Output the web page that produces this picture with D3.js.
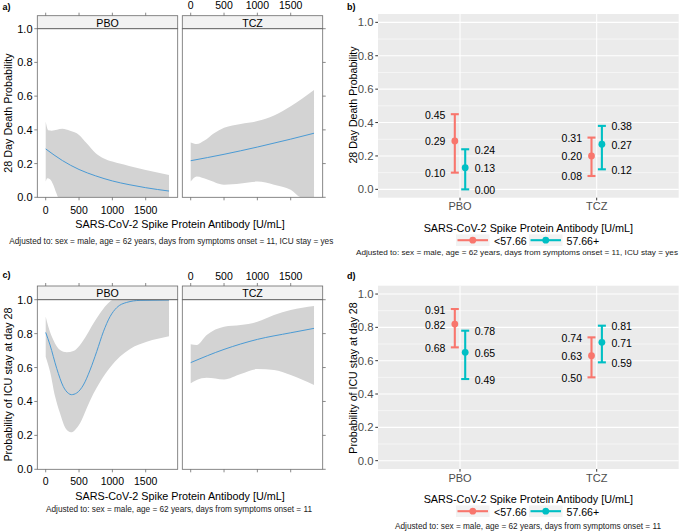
<!DOCTYPE html>
<html><head><meta charset="utf-8">
<script src="https://cdn.jsdelivr.net/npm/d3@7"></script>
<style>body{margin:0;background:#fff} svg{display:block;font-family:"Liberation Sans",Arial,sans-serif}</style>
</head><body><svg id="c" width="685" height="531"></svg>
<script>
// ---------------- data ----------------
const categories = ["PBO", "TCZ"];
const groups = ["<57.66", "57.66+"];
const groupColors = ["#F8766D", "#00BFC4"];
const xTicks = [0, 500, 1000, 1500];
const yTicks = [0, 0.2, 0.4, 0.6, 0.8, 1.0];
const yTickLabels = ["0.0", "0.2", "0.4", "0.6", "0.8", "1.0"];
const xTitle = "SARS-CoV-2 Spike Protein Antibody [U/mL]";
const noteDeath = "Adjusted to: sex = male, age = 62 years, days from symptoms onset = 11, ICU stay = yes";
const noteIcu = "Adjusted to: sex = male, age = 62 years, days from symptoms onset = 11";

// panel a: 28 day death probability, continuous antibody
const aPboFitX = [0, 250, 500, 750, 1000, 1250, 1500, 1850];
const aPboFit  = [0.287, 0.218, 0.165, 0.127, 0.097, 0.075, 0.057, 0.037];
const aPboUpX  = [0, 40, 90, 250, 365, 500, 615, 750, 865, 1000, 1250, 1500, 1850];
const aPboUp   = [0.45, 0.397, 0.395, 0.406, 0.394, 0.37, 0.32, 0.262, 0.232, 0.212, 0.186, 0.162, 0.133];
const aPboLoX  = [0, 25, 65, 115, 155, 190, 1850];
const aPboLo   = [0.093, 0.113, 0.107, 0.073, 0.03, 0.0, 0.0];
const aTczFitX = [0, 500, 1000, 1500, 1850];
const aTczFit  = [0.217, 0.255, 0.298, 0.345, 0.38];
const aTczUpX  = [0, 90, 200, 350, 500, 750, 1000, 1250, 1500, 1850];
const aTczUp   = [0.325, 0.316, 0.335, 0.38, 0.412, 0.435, 0.452, 0.485, 0.54, 0.637];
const aTczLoX  = [0, 90, 250, 500, 750, 1000, 1250, 1500, 1665, 1850];
const aTczLo   = [0.093, 0.123, 0.105, 0.075, 0.082, 0.093, 0.075, 0.045, 0.0, 0.0];

// panel c: probability of ICU stay at day 28, continuous antibody
const cPboFitX = [0, 65, 165, 265, 340, 385, 465, 565, 665, 765, 865, 965, 1065, 1215, 1415, 1850];
const cPboFit  = [0.807, 0.733, 0.595, 0.487, 0.448, 0.440, 0.450, 0.497, 0.585, 0.694, 0.811, 0.9, 0.953, 0.984, 0.996, 0.998];
const cPboUpX  = [0, 40, 115, 215, 315, 415, 515, 615, 715, 815, 915, 1015, 1850];
const cPboUp   = [0.9, 0.84, 0.762, 0.703, 0.69, 0.697, 0.733, 0.792, 0.86, 0.92, 0.97, 1.0, 1.0];
const cPboLoX  = [0, 65, 140, 215, 300, 380, 440, 515, 615, 715, 815, 965, 1115, 1265, 1515, 1850];
const cPboLo   = [0.664, 0.576, 0.43, 0.33, 0.24, 0.218, 0.232, 0.271, 0.36, 0.445, 0.515, 0.6, 0.665, 0.71, 0.752, 0.785];
const cTczFitX = [0, 500, 1000, 1500, 1850];
const cTczFit  = [0.629, 0.707, 0.766, 0.805, 0.831];
const cTczUpX  = [0, 90, 240, 500, 750, 1000, 1250, 1500, 1850];
const cTczUp   = [0.737, 0.733, 0.792, 0.841, 0.851, 0.87, 0.91, 0.939, 0.963];
const cTczLoX  = [0, 90, 240, 500, 750, 1000, 1250, 1500, 1850];
const cTczLo   = [0.507, 0.527, 0.54, 0.53, 0.562, 0.591, 0.585, 0.556, 0.497];

// panel b: 28 day death probability by antibody group
const bEstLow  = [0.29, 0.20];
const bLoLow   = [0.10, 0.08];
const bHiLow   = [0.45, 0.31];
const bEstHigh = [0.13, 0.27];
const bLoHigh  = [0.00, 0.12];
const bHiHigh  = [0.24, 0.38];

// panel d: ICU stay at day 28 by antibody group
const dEstLow  = [0.82, 0.63];
const dLoLow   = [0.68, 0.50];
const dHiLow   = [0.91, 0.74];
const dEstHigh = [0.65, 0.71];
const dLoHigh  = [0.49, 0.59];
const dHiHigh  = [0.78, 0.81];

// ---------------- drawing ----------------
const svg = d3.select("#c");
const zip = (xs, ys) => xs.map((x, i) => [x, ys[i]]);
let clipId = 0;

function note(g, o) {
  g.append("text").attr("x", o.noteX).attr("y", o.noteY).attr("dominant-baseline", "central")
    .attr("font-size", o.noteSize || 8.6).attr("textLength", o.noteW).attr("lengthAdjust", "spacingAndGlyphs")
    .attr("fill", "#222").text(o.note);
}

function latticePlot(o) {
  const g = svg.append("g");
  const border = "#6b6b6b";
  const y = d3.scaleLinear().domain([0, 1]).range([o.y0, o.y1]);
  const panels = [
    {name: categories[0], x0: 37.3, x1: 177.7, fit: o.pbo[0], up: o.pbo[1], lo: o.pbo[2]},
    {name: categories[1], x0: 182.3, x1: 322.7, fit: o.tcz[0], up: o.tcz[1], lo: o.tcz[2]}
  ];
  panels.forEach((p, pi) => {
    const x = d3.scaleLinear().domain([-126, 1980]).range([p.x0, p.x1]);
    const id = "clip" + (clipId++);
    g.append("clipPath").attr("id", id).append("rect")
      .attr("x", p.x0).attr("y", o.y1).attr("width", p.x1 - p.x0).attr("height", o.y0 - o.y1);
    const pg = g.append("g").attr("clip-path", `url(#${id})`);
    const line = d3.line().x(d => x(d[0])).y(d => y(d[1])).curve(d3.curveMonotoneX);
    const upPath = line(p.up);
    const loPath = line(p.lo.slice().reverse());
    pg.append("path").attr("d", upPath + "L" + loPath.slice(1) + "Z")
      .attr("fill", "#d3d3d3").attr("stroke", "none");
    pg.append("path").attr("d", line(p.fit)).attr("fill", "none")
      .attr("stroke", "#4a9ad4").attr("stroke-width", 1);
    // strip
    g.append("rect").attr("x", p.x0).attr("y", o.stripTop).attr("width", p.x1 - p.x0)
      .attr("height", o.y1 - o.stripTop).attr("fill", "#f2f2f2").attr("stroke", border).attr("stroke-width", 0.8);
    g.append("text").attr("x", (p.x0 + p.x1) / 2).attr("y", (o.stripTop + o.y1) / 2 + 0.5)
      .attr("text-anchor", "middle").attr("dominant-baseline", "central")
      .attr("font-size", 10.6).attr("font-weight", "normal").text(p.name);
    // panel border
    g.append("rect").attr("x", p.x0).attr("y", o.y1).attr("width", p.x1 - p.x0)
      .attr("height", o.y0 - o.y1).attr("fill", "none").attr("stroke", border).attr("stroke-width", 0.8);
    // x ticks bottom and top
    xTicks.forEach(t => {
      g.append("line").attr("x1", x(t)).attr("x2", x(t)).attr("y1", o.y0).attr("y2", o.y0 + 3)
        .attr("stroke", border).attr("stroke-width", 0.8);
      g.append("line").attr("x1", x(t)).attr("x2", x(t)).attr("y1", o.stripTop).attr("y2", o.stripTop - 3)
        .attr("stroke", border).attr("stroke-width", 0.8);
      g.append("text").attr("x", x(t)).attr("y", pi === 0 ? o.botLab : o.topLab).attr("text-anchor", "middle")
        .attr("dominant-baseline", "central").attr("font-size", 10.5).text(t);
    });
    // y ticks
    yTicks.forEach((t, i) => {
      if (pi === 0) {
        g.append("line").attr("x1", p.x0).attr("x2", p.x0 - 3).attr("y1", y(t)).attr("y2", y(t))
          .attr("stroke", border).attr("stroke-width", 0.8);
        g.append("text").attr("x", 32.5).attr("y", y(t)).attr("text-anchor", "end")
          .attr("dominant-baseline", "central").attr("font-size", 11).text(yTickLabels[i]);
      } else {
        g.append("line").attr("x1", p.x1).attr("x2", p.x1 + 3).attr("y1", y(t)).attr("y2", y(t))
          .attr("stroke", border).attr("stroke-width", 0.8);
      }
    });
  });
  g.append("text").attr("transform", `translate(7.5,${(o.y0 + o.y1) / 2}) rotate(-90)`)
    .attr("text-anchor", "middle").attr("dominant-baseline", "central")
    .attr("font-size", 10.8).text(o.yTitle);
  g.append("text").attr("x", 180).attr("y", o.xTitleY).attr("text-anchor", "middle")
    .attr("dominant-baseline", "central").attr("font-size", 10.8).text(xTitle);
  note(g, o);
  g.append("text").attr("x", 2.5).attr("y", o.labY).attr("dominant-baseline", "central")
    .attr("font-size", 9).attr("font-weight", "bold").text(o.label);
}

function ggPlot(o) {
  const g = svg.append("g");
  const X0 = 378, X1 = 678.7;
  const y = d3.scaleLinear().domain([-0.05, 1.05]).range([o.bottom, o.top]);
  const x = d3.scalePoint().domain(categories).range([X0, X1]).padding(0.6);
  const step = x.step();
  g.append("rect").attr("x", X0).attr("y", o.top).attr("width", X1 - X0).attr("height", o.bottom - o.top)
    .attr("fill", "#ebebeb");
  [0.1, 0.3, 0.5, 0.7, 0.9].forEach(t => g.append("line").attr("x1", X0).attr("x2", X1)
    .attr("y1", y(t)).attr("y2", y(t)).attr("stroke", "#fff").attr("stroke-width", 0.55));
  yTicks.forEach(t => g.append("line").attr("x1", X0).attr("x2", X1)
    .attr("y1", y(t)).attr("y2", y(t)).attr("stroke", "#fff").attr("stroke-width", 1.07));
  categories.forEach(c => g.append("line").attr("x1", x(c)).attr("x2", x(c))
    .attr("y1", o.top).attr("y2", o.bottom).attr("stroke", "#fff").attr("stroke-width", 1.07));
  const series = [
    {est: o.low[0], lo: o.low[1], hi: o.low[2], off: -0.038, side: -1},
    {est: o.high[0], lo: o.high[1], hi: o.high[2], off: 0.038, side: 1}
  ];
  series.forEach((s, si) => {
    const col = groupColors[si];
    categories.forEach((c, ci) => {
      const cx = x(c) + s.off * step;
      g.append("line").attr("x1", cx).attr("x2", cx).attr("y1", y(s.lo[ci])).attr("y2", y(s.hi[ci]))
        .attr("stroke", col).attr("stroke-width", 2.1);
      [s.lo[ci], s.hi[ci]].forEach(v => g.append("line").attr("x1", cx - 4).attr("x2", cx + 4)
        .attr("y1", y(v)).attr("y2", y(v)).attr("stroke", col).attr("stroke-width", 2.1));
      g.append("circle").attr("cx", cx).attr("cy", y(s.est[ci])).attr("r", 3.4).attr("fill", col);
      [s.hi[ci], s.est[ci], s.lo[ci]].forEach(v => g.append("text")
        .attr("x", cx + s.side * 9.5).attr("y", y(v) + 0.5)
        .attr("text-anchor", s.side < 0 ? "end" : "start").attr("dominant-baseline", "central")
        .attr("font-size", 10.5).attr("fill", "#000").text(v.toFixed(2)));
    });
  });
  // y axis
  yTicks.forEach((t, i) => {
    g.append("line").attr("x1", X0).attr("x2", X0 - 2.7).attr("y1", y(t)).attr("y2", y(t))
      .attr("stroke", "#333").attr("stroke-width", 1);
    g.append("text").attr("x", X0 - 4.5).attr("y", y(t)).attr("text-anchor", "end")
      .attr("dominant-baseline", "central").attr("font-size", 11.3).attr("fill", "#4d4d4d").text(yTickLabels[i]);
  });
  categories.forEach(c => {
    g.append("line").attr("x1", x(c)).attr("x2", x(c)).attr("y1", o.bottom).attr("y2", o.bottom + 2.7)
      .attr("stroke", "#333").attr("stroke-width", 1);
    g.append("text").attr("x", x(c)).attr("y", o.xLabY).attr("text-anchor", "middle")
      .attr("dominant-baseline", "central").attr("font-size", 11).attr("fill", "#4d4d4d").text(c);
  });
  g.append("text").attr("transform", `translate(353,${o.yTitleY}) rotate(-90)`)
    .attr("text-anchor", "middle").attr("dominant-baseline", "central")
    .attr("font-size", 10.6).text(o.yTitle);
  g.append("text").attr("x", (X0 + X1) / 2).attr("y", o.titleY).attr("text-anchor", "middle")
    .attr("dominant-baseline", "central").attr("font-size", 10.8).text(xTitle);
  // legend
  const keys = [{x: 456, tx: 494}, {x: 529, tx: 566.5}];
  groups.forEach((gr, i) => {
    const k = keys[i];
    g.append("rect").attr("x", k.x).attr("y", o.legY - 5.8).attr("width", 33.5).attr("height", 11.6)
      .attr("fill", "#f2f2f2");
    g.append("line").attr("x1", k.x + 1.5).attr("x2", k.x + 32).attr("y1", o.legY).attr("y2", o.legY)
      .attr("stroke", groupColors[i]).attr("stroke-width", 2.1);
    g.append("circle").attr("cx", k.x + 16.75).attr("cy", o.legY).attr("r", 3.4).attr("fill", groupColors[i]);
    g.append("text").attr("x", k.tx).attr("y", o.legY + 0.5).attr("dominant-baseline", "central")
      .attr("font-size", 10.6).text(gr);
  });
  note(g, o);
  g.append("text").attr("x", 347).attr("y", o.labY).attr("dominant-baseline", "central")
    .attr("font-size", 9).attr("font-weight", "bold").text(o.label);
}

latticePlot({
  label: "a)", labY: 7, stripTop: 15.7, y1: 28.7, y0: 197.3, topLab: 5, botLab: 209.5,
  xTitleY: 224, noteX: 9.3, noteY: 240.7, noteW: 324, note: noteDeath,
  yTitle: "28 Day Death Probability",
  pbo: [zip(aPboFitX, aPboFit), zip(aPboUpX, aPboUp), zip(aPboLoX, aPboLo)],
  tcz: [zip(aTczFitX, aTczFit), zip(aTczUpX, aTczUp), zip(aTczLoX, aTczLo)]
});
latticePlot({
  label: "c)", labY: 275, stripTop: 286, y1: 299.7, y0: 469.3, topLab: 276, botLab: 480.5,
  xTitleY: 496, noteX: 46, noteY: 509.3, noteW: 266, note: noteIcu,
  yTitle: "Probability of ICU stay at day 28",
  pbo: [zip(cPboFitX, cPboFit), zip(cPboUpX, cPboUp), zip(cPboLoX, cPboLo)],
  tcz: [zip(cTczFitX, cTczFit), zip(cTczUpX, cTczUp), zip(cTczLoX, cTczLo)]
});
ggPlot({
  label: "b)", labY: 6.5, top: 14, bottom: 197.7, xLabY: 205.5, titleY: 227.7, legY: 240.2,
  yTitleY: 105, yTitle: "28 Day Death Probability",
  noteX: 356, noteY: 252.7, noteW: 322, noteSize: 7.5, note: noteDeath,
  low: [bEstLow, bLoLow, bHiLow], high: [bEstHigh, bLoHigh, bHiHigh]
});
ggPlot({
  label: "d)", labY: 276, top: 285.7, bottom: 469, xLabY: 477.5, titleY: 499, legY: 511.2,
  yTitleY: 378, yTitle: "Probability of ICU stay at day 28",
  noteX: 395, noteY: 525.7, noteW: 266, note: noteIcu,
  low: [dEstLow, dLoLow, dHiLow], high: [dEstHigh, dLoHigh, dHiHigh]
});
</script></body></html>
